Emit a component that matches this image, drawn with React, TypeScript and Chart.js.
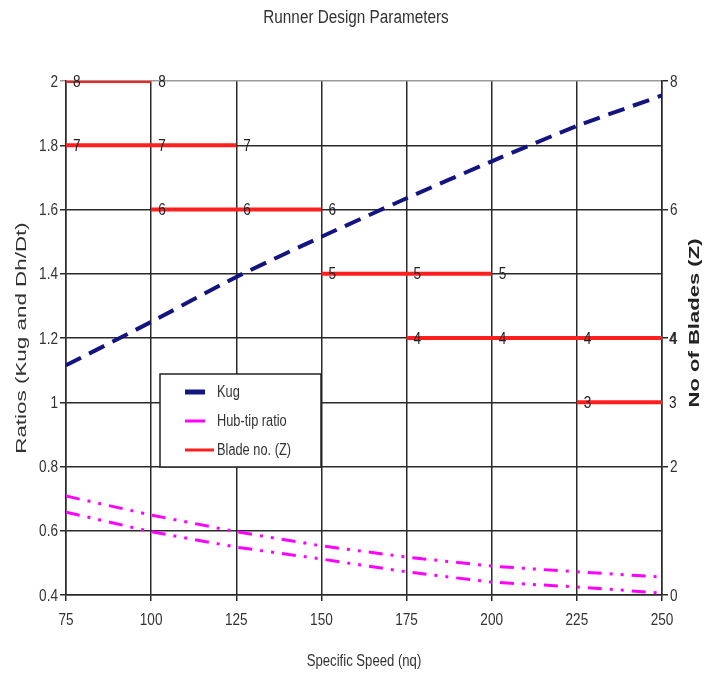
import React, { useEffect, useRef } from "react";
import { Chart, registerables } from "chart.js";

Chart.register(...registerables);

const titleText = "Runner Design Parameters";
const xTitle = "Specific Speed (nq)";
const yTitle = "Ratios (Kug and Dh/Dt)";
const y2Title = "No of Blades (Z)";

const speeds = [75, 100, 125, 150, 175, 200, 225, 250];
const kug = [1.115, 1.25, 1.39, 1.515, 1.635, 1.75, 1.86, 1.955];
const hubTipUpper = [0.708, 0.649, 0.597, 0.553, 0.518, 0.49, 0.472, 0.456];
const hubTipLower = [0.658, 0.597, 0.549, 0.512, 0.472, 0.44, 0.425, 0.406];
const bladeCounts = [8, 7, 6, 5, 4, 3];
const bladeFrom = [75, 75, 100, 150, 175, 225];
const bladeTo = [100, 125, 150, 200, 250, 250];

const FONT = "'Liberation Sans', Arial, sans-serif";
const TEXT = "#333333";
const GRID = "#2a2a2a";
const KUG_COLOR = "#141480";
const HUB_COLOR = "#ff00ff";
const BLADE_COLOR = "#ff1f1f";
const NARROW = 0.8;

function buildBladePoints() {
  const pts: { x: number; y: number | null }[] = [];
  bladeCounts.forEach((z, i) => {
    speeds.forEach((s) => {
      if (s >= bladeFrom[i] && s <= bladeTo[i]) pts.push({ x: s, y: z });
    });
    pts.push({ x: bladeTo[i], y: null });
  });
  return pts;
}

function drawText(
  ctx: any, text: string, x: number, y: number, font: string,
  rot: number, sx: number, color: string, align: string = "center"
) {
  ctx.save();
  ctx.translate(x, y);
  ctx.rotate(rot);
  ctx.scale(sx, 1);
  ctx.font = font;
  ctx.fillStyle = color;
  ctx.textAlign = align;
  ctx.textBaseline = "middle";
  ctx.fillText(text, 0, 0);
  ctx.restore();
}

const fmt = (v: number) => String(Math.round(v * 10) / 10);

const textPlugin = {
  id: "customText",
  afterDatasetsDraw(chart: any) {
    const ctx = chart.ctx;
    const area = chart.chartArea;
    ctx.save();

    // tick labels (from the chart's own scales)
    const sx = chart.scales.x;
    sx.ticks.forEach((t: any) => {
      drawText(ctx, fmt(t.value), sx.getPixelForValue(t.value), 620, `17px ${FONT}`, 0, NARROW, TEXT);
    });
    const sy = chart.scales.y;
    sy.ticks.forEach((t: any) => {
      drawText(ctx, fmt(t.value), 58, sy.getPixelForValue(t.value) + 1, `17px ${FONT}`, 0, NARROW, TEXT, "right");
    });
    const sy1 = chart.scales.y1;
    sy1.ticks.forEach((t: any) => {
      drawText(ctx, fmt(t.value), 670, sy1.getPixelForValue(t.value) + 1, `17px ${FONT}`, 0, NARROW, TEXT, "left");
    });

    // data labels on blade line
    const bladeIndex = chart.data.datasets.findIndex((d: any) => d.isBlade);
    const meta = chart.getDatasetMeta(bladeIndex);
    meta.data.forEach((el: any, j: number) => {
      const raw = chart.data.datasets[bladeIndex].data[j];
      if (raw && raw.y !== null) drawText(ctx, String(raw.y), el.x + 7, el.y + 1, `17px ${FONT}`, 0, NARROW, "#222", "left");
    });

    // legend box
    const lx = 160, ly = 374, lw = 161, lh = 93;
    ctx.fillStyle = "#ffffff";
    ctx.fillRect(lx, ly, lw, lh);
    ctx.strokeStyle = "#222";
    ctx.lineWidth = 1.5;
    ctx.strokeRect(lx, ly, lw, lh);
    const entries = [
      { label: chart.data.datasets[0].label, color: KUG_COLOR, w: 5, x2: 205 },
      { label: chart.data.datasets[1].label, color: HUB_COLOR, w: 3, x2: 205 },
      { label: chart.data.datasets[3].label, color: BLADE_COLOR, w: 3, x2: 214 },
    ];
    entries.forEach((e, k) => {
      const y = 392 + k * 29;
      ctx.strokeStyle = e.color;
      ctx.lineWidth = e.w;
      ctx.setLineDash([]);
      ctx.beginPath();
      ctx.moveTo(185, y);
      ctx.lineTo(e.x2, y);
      ctx.stroke();
      drawText(ctx, e.label, 217, y + 1, `16px ${FONT}`, 0, NARROW, TEXT, "left");
    });

    // titles
    drawText(ctx, titleText, 356, 18, `18px ${FONT}`, 0, 0.85, TEXT);
    drawText(ctx, xTitle, (area.left + area.right) / 2, 662, `16px ${FONT}`, 0, 0.82, TEXT);
    drawText(ctx, yTitle, 22, 338, `14px ${FONT}`, -Math.PI / 2, 1.6, TEXT);
    drawText(ctx, y2Title, 695, 323, `bold 15px ${FONT}`, -Math.PI / 2, 1.47, "#222");

    ctx.restore();
  },
};

export default function App() {
  const ref = useRef<HTMLCanvasElement | null>(null);

  useEffect(() => {
    document.body.style.margin = "0";
    const canvas = ref.current;
    if (!canvas) return;
    const chart = new Chart(canvas, {
      type: "line",
      data: {
        datasets: [
          {
            label: "Kug",
            data: speeds.map((s, i) => ({ x: s, y: kug[i] })),
            borderColor: KUG_COLOR,
            borderWidth: 4,
            borderDash: [17, 9],
            pointRadius: 0,
            yAxisID: "y",
            tension: 0.2,
          },
          {
            label: "Hub-tip ratio",
            data: speeds.map((s, i) => ({ x: s, y: hubTipUpper[i] })),
            borderColor: HUB_COLOR,
            borderWidth: 3,
            borderDash: [14, 8, 3, 8, 3, 8],
            pointRadius: 0,
            yAxisID: "y",
          },
          {
            label: "Hub-tip ratio",
            data: speeds.map((s, i) => ({ x: s, y: hubTipLower[i] })),
            borderColor: HUB_COLOR,
            borderWidth: 3,
            borderDash: [14, 8, 3, 8, 3, 8],
            pointRadius: 0,
            yAxisID: "y",
          },
          {
            label: "Blade no. (Z)",
            isBlade: true,
            data: buildBladePoints(),
            borderColor: BLADE_COLOR,
            borderWidth: 4,
            pointRadius: 0,
            spanGaps: false,
            yAxisID: "y1",
          } as any,
        ],
      },
      options: {
        responsive: false,
        animation: false,
        devicePixelRatio: 1,
        layout: { padding: { top: 81, left: 0, right: 0, bottom: 0 } },
        plugins: {
          legend: { display: false },
          title: { display: false },
          tooltip: { enabled: false },
        },
        scales: {
          x: {
            type: "linear",
            min: 75,
            max: 250,
            ticks: { stepSize: 25, display: false },
            grid: { color: GRID, lineWidth: 1.5, tickLength: 6 },
            border: { color: GRID, width: 1.5 },
            afterFit: (s: any) => { s.height = 83; },
          },
          y: {
            type: "linear",
            position: "left",
            min: 0.4,
            max: 2,
            ticks: { stepSize: 0.2, display: false },
            grid: {
              color: (c: any) => (c.tick && Math.abs(c.tick.value - 2) < 1e-6 ? "#9a9a9a" : GRID),
              lineWidth: 1.5,
              tickLength: 6,
            },
            border: { color: GRID, width: 1.5 },
            afterFit: (s: any) => { s.width = 66; },
          },
          y1: {
            type: "linear",
            position: "right",
            min: 0,
            max: 8,
            ticks: { stepSize: 2, display: false },
            grid: { drawOnChartArea: false, color: GRID, lineWidth: 1.5, tickLength: 6 },
            border: { color: GRID, width: 1.5 },
            afterFit: (s: any) => { s.width = 49; },
          },
        },
      } as any,
      plugins: [textPlugin],
    });
    return () => chart.destroy();
  }, []);

  return (
    <div style={{ width: 711, height: 678, background: "#fff" }}>
      <canvas ref={ref} width={711} height={678} style={{ display: "block" }} />
    </div>
  );
}
